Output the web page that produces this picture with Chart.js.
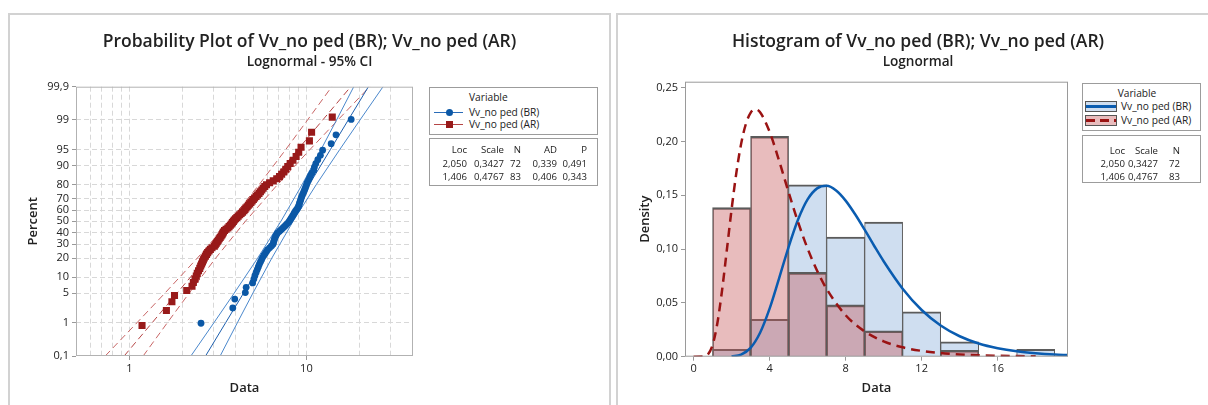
<!DOCTYPE html>
<html>
<head>
<meta charset="utf-8">
<script src="https://cdn.jsdelivr.net/npm/chart.js@4"></script>
<style>
  body { margin: 0; width: 1208px; height: 405px; overflow: hidden; background: #fff; position: relative;
         font-family: "Open Sans", sans-serif; color: #222; }
  .panel { position: absolute; border: 2px solid #d2d2d2; border-bottom: none; box-sizing: border-box; }
  .title { position: absolute; text-align: center; font-size: 17.5px; font-weight: 600; line-height: 22px; white-space: nowrap; }
  .sub { position: absolute; text-align: center; font-size: 13.6px; font-weight: 600; line-height: 18px; white-space: nowrap; }
  .box { position: absolute; border: 1px solid #9c9c9c; box-sizing: border-box; background: #fff; }
  .txt { position: absolute; font-size: 10.2px; line-height: 12px; white-space: nowrap; }
  .txt.stat { font-size: 9.6px; }
  .sym { position: absolute; }
  canvas { position: absolute; top: 0; }
</style>
</head>
<body>
<div class="panel" style="left:8px;top:13px;width:603px;height:400px"></div>
<div class="panel" style="left:616px;top:13px;width:610px;height:400px"></div>

<canvas id="pp" width="612" height="405" style="left:0"></canvas>
<canvas id="hist" width="596" height="405" style="left:612px"></canvas>

<div class="title" style="left:8px;width:603px;top:29px">Probability Plot of Vv_no ped (BR); Vv_no ped (AR)</div>
<div class="sub" style="left:8px;width:603px;top:52px">Lognormal - 95% CI</div>
<div class="title" style="left:616px;width:604px;top:29px">Histogram of Vv_no ped (BR); Vv_no ped (AR)</div>
<div class="sub" style="left:616px;width:604px;top:52px">Lognormal</div>

<!-- legend boxes -->
<div class="box" style="left:429px;top:87px;width:169px;height:48px"></div>
<div class="box" style="left:429px;top:138px;width:169px;height:48px"></div>
<div class="box" style="left:1082px;top:83px;width:119px;height:48px"></div>
<div class="box" style="left:1082px;top:135px;width:119px;height:48px"></div>

<!-- legend symbols, probability plot -->
<div class="sym" style="left:434px;top:111.5px;width:29px;height:1px;background:#2a6cb8"></div>
<div class="sym" style="left:445.5px;top:108.5px;width:7px;height:7px;border-radius:50%;background:#0b58a6"></div>
<div class="sym" style="left:434px;top:123.5px;width:29px;height:1px;background:#b54545"></div>
<div class="sym" style="left:445.5px;top:120.5px;width:7px;height:7px;background:#981a1a"></div>

<!-- legend symbols, histogram -->
<div class="sym" style="left:1085px;top:100.5px;width:32px;height:11px;background:#cfdef0;border:1px solid #555;box-sizing:border-box"></div>
<div class="sym" style="left:1086px;top:105px;width:30px;height:2.5px;background:#0a5cb0"></div>
<div class="sym" style="left:1085px;top:114.5px;width:32px;height:11px;background:#e8bcbd;border:1px solid #555;box-sizing:border-box"></div>
<div class="sym" style="left:1086px;top:119px;width:30px;height:2.5px;background:repeating-linear-gradient(90deg,#9a1313 0 9px,transparent 9px 14px)"></div>

<script>
/* Probability plot + histogram, two lognormal fits */

const brValues = [2.54, 3.84, 3.94, 4.52, 4.57, 4.97, 5.05, 5.12, 5.2, 5.28, 5.35, 5.42, 5.5, 5.58, 5.65,
  5.75, 5.85, 5.95, 6.05, 6.2, 6.35, 6.48, 6.52, 6.56, 6.6, 6.65, 6.72, 6.8, 6.88, 7.05, 7.2, 7.35, 7.5,
  7.65, 7.8, 7.95, 8.05, 8.15, 8.25, 8.35, 8.45, 8.55, 8.65, 8.78, 8.9, 9.02, 9.08, 9.14, 9.2, 9.27, 9.33,
  9.4, 9.5, 9.6, 9.7, 9.8, 9.9, 10.0, 10.1, 10.25, 10.4, 10.55, 10.75, 11.0, 11.1, 11.3, 11.6, 12.0, 12.35,
  13.8, 14.7, 17.9];
const arValues = [1.18, 1.62, 1.74, 1.8, 2.11, 2.26, 2.3, 2.35, 2.39, 2.42, 2.46, 2.5, 2.53, 2.56, 2.59,
  2.62, 2.65, 2.69, 2.73, 2.77, 2.82, 2.87, 2.93, 3.02, 3.06, 3.1, 3.14, 3.18, 3.22, 3.26, 3.3, 3.34, 3.37,
  3.4, 3.45, 3.52, 3.6, 3.66, 3.72, 3.77, 3.82, 3.87, 3.92, 3.98, 4.05, 4.12, 4.2, 4.28, 4.36, 4.44, 4.5,
  4.56, 4.63, 4.7, 4.78, 4.86, 4.94, 5.02, 5.1, 5.2, 5.3, 5.4, 5.5, 5.6, 5.7, 5.82, 5.95, 6.2, 6.5, 6.8,
  7.05, 7.25, 7.45, 7.65, 7.85, 8.1, 8.4, 8.75, 9.05, 9.33, 10.4, 10.7, 14.0];

// fitted line and 95% CI (x value at each percent level)
const fitPct = [0.1, 1, 5, 20, 50, 80, 95, 99, 99.9];
const brFit = [2.694, 3.500, 4.421, 5.822, 7.768, 10.365, 13.650, 17.240, 22.40];
const brLower = [2.227, 3.005, 3.915, 5.310, 7.177, 9.452, 12.089, 14.803, 18.520];
const brUpper = [3.258, 4.077, 4.991, 6.384, 8.409, 11.365, 15.412, 20.077, 27.093];
const arFit = [0.935, 1.346, 1.862, 2.731, 4.080, 6.094, 8.936, 12.367, 17.80];
const arLower = [0.731, 1.105, 1.591, 2.424, 3.682, 5.408, 7.636, 10.151, 13.911];
const arUpper = [1.197, 1.640, 2.180, 3.078, 4.521, 6.866, 10.458, 15.066, 22.774];

const pctTicks = [0.1, 1, 5, 10, 20, 30, 40, 50, 60, 70, 80, 90, 95, 99, 99.9];
const dataGrid = [0.5, 0.6, 0.7, 0.8, 0.9, 1, 2, 3, 4, 5, 6, 7, 8, 9, 10, 20, 30, 40];
const dataLabels = [1, 10];

// histogram
const binCenters = [2, 4, 6, 8, 10, 12, 14, 16, 18];
const brDensity = [0.0069, 0.0347, 0.1597, 0.1111, 0.125, 0.0417, 0.0139, 0, 0.0069];
const arDensity = [0.1386, 0.2048, 0.0783, 0.0482, 0.0241, 0, 0.006, 0, 0];
const brCurveX = [2, 2.5, 3, 3.5, 4, 4.5, 5, 5.5, 6, 6.5, 7, 7.5, 8, 8.5, 9, 9.5, 10, 11, 12, 13, 14, 15, 16, 17, 18, 19, 19.7];
const brCurveY = [0.0002, 0.002, 0.0082, 0.0222, 0.0446, 0.0728, 0.1019, 0.1274, 0.1461, 0.1564, 0.1588, 0.1544, 0.1450,
  0.1323, 0.1180, 0.1031, 0.0887, 0.0632, 0.0434, 0.0290, 0.0190, 0.0123, 0.0079, 0.0050, 0.0032, 0.0020, 0.0015];
const arCurveX = [0, 0.5, 0.75, 1, 1.25, 1.5, 1.75, 2, 2.25, 2.5, 2.75, 3, 3.25, 3.5, 4, 4.5, 5, 5.5, 6, 6.5, 7, 8, 9, 10,
  11, 12, 13, 14, 15, 16, 17, 18];
const arCurveY = [0, 0.0001, 0.0020, 0.0108, 0.0308, 0.0617, 0.0989, 0.1368, 0.1706, 0.1975, 0.2161, 0.2266, 0.2298,
  0.2271, 0.2090, 0.1821, 0.1528, 0.1250, 0.1005, 0.0799, 0.0630, 0.0386, 0.0235, 0.0143, 0.0087, 0.0054, 0.0034,
  0.0021, 0.0013, 0.0009, 0.0006, 0.0004];
const densTicks = [0, 0.05, 0.10, 0.15, 0.20, 0.25];
const histXTicks = [0, 4, 8, 12, 16];

// legend / stats text
const seriesNames = ["Vv_no ped (BR)", "Vv_no ped (AR)"];
const ppStatHead = ["Loc", "Scale", "N", "AD", "P"];
const ppStatRows = [["2,050", "0,3427", "72", "0,339", "0,491"], ["1,406", "0,4767", "83", "0,406", "0,343"]];
const histStatHead = ["Loc", "Scale", "N"];
const histStatRows = [["2,050", "0,3427", "72"], ["1,406", "0,4767", "83"]];

const BLUE = "#0b58a6";
const RED = "#981a1a";

Chart.defaults.font.family = '"Open Sans", sans-serif';
Chart.defaults.color = "#222";

/* ── helpers ── */
function probit(p) {
  const a = [-39.69683028665376, 220.9460984245205, -275.9285104469687, 138.357751867269, -30.66479806614716, 2.506628277459239];
  const b = [-54.47609879822406, 161.5858368580409, -155.6989798598866, 66.80131188771972, -13.28068155288572];
  const c = [-0.007784894002430293, -0.3223964580411365, -2.400758277161838, -2.549732539343734, 4.374664141464968, 2.938163982698783];
  const d = [0.007784695709041462, 0.3224671290700398, 2.445134137142996, 3.754408661907416];
  const tail = (q) => (((((c[0] * q + c[1]) * q + c[2]) * q + c[3]) * q + c[4]) * q + c[5]) /
    ((((d[0] * q + d[1]) * q + d[2]) * q + d[3]) * q + 1);
  if (p < 0.02425) return tail(Math.sqrt(-2 * Math.log(p)));
  if (p > 1 - 0.02425) return -tail(Math.sqrt(-2 * Math.log(1 - p)));
  const q = p - 0.5, r = q * q;
  return (((((a[0] * r + a[1]) * r + a[2]) * r + a[3]) * r + a[4]) * r + a[5]) * q /
    (((((b[0] * r + b[1]) * r + b[2]) * r + b[3]) * r + b[4]) * r + 1);
}
const comma = (v, d) => (d == null ? String(v) : v.toFixed(d)).replace(".", ",");

// median-rank plotting positions
const ppPoints = (vals) => vals.map((v, i) => ({ x: v, y: probit((i + 0.7) / (vals.length + 0.4)) }));
const ppLine = (xs) => xs.map((v, i) => ({ x: v, y: probit(fitPct[i] / 100) }));

const framePlugin = {
  id: "frame",
  afterDatasetsDraw(chart, args, opts) {
    const { ctx, chartArea: a } = chart;
    ctx.save();
    ctx.strokeStyle = opts.color;
    ctx.lineWidth = 1;
    ctx.strokeRect(a.left + 0.5, a.top + 0.5, a.right - a.left - 1, a.bottom - a.top - 1);
    ctx.restore();
  },
};

function text(str, x, y, anchor, cls) {
  const el = document.createElement("div");
  el.className = "txt" + (cls ? " " + cls : "");
  el.textContent = str;
  el.style.left = x + "px";
  el.style.top = y + "px";
  const tx = anchor === "right" ? "-100%" : anchor === "center" ? "-50%" : "0";
  el.style.transform = `translate(${tx},-50%)`;
  document.body.appendChild(el);
}

/* ── probability plot ── */
const lineDs = (xs, color, dash, order) => ({
  data: ppLine(xs), showLine: true, pointRadius: 0, borderColor: color, borderWidth: 1,
  borderDash: dash, order, fill: false,
});

new Chart(document.getElementById("pp"), {
  type: "scatter",
  data: {
    datasets: [
      { data: ppPoints(brValues), pointStyle: "circle", pointRadius: 3.4, backgroundColor: BLUE, borderWidth: 0, order: 1 },
      { data: ppPoints(arValues), pointStyle: "rect", pointRadius: 5, backgroundColor: RED, borderWidth: 0, order: 0 },
      lineDs(brFit, "#1d5fae", [], 2),
      lineDs(brLower, "#4b88cc", [], 3),
      lineDs(brUpper, "#4b88cc", [], 3),
      lineDs(arFit, "#b54545", [7, 4], 4),
      lineDs(arLower, "#c86565", [7, 4], 5),
      lineDs(arUpper, "#c86565", [7, 4], 5),
    ],
  },
  options: {
    responsive: false,
    animation: false,
    events: [],
    layout: { padding: { left: 0, right: 199, top: 86.7, bottom: 0 } },
    plugins: { legend: { display: false }, tooltip: { enabled: false }, frame: { color: "#b2b2b2" } },
    scales: {
      x: {
        type: "logarithmic",
        min: 0.5,
        max: 40,
        afterBuildTicks: (s) => { s.ticks = dataGrid.map((v) => ({ value: v })); },
        afterFit: (s) => { s.height = 49; },
        ticks: {
          autoSkip: false, maxRotation: 0, padding: 2, font: { size: 11 },
          callback: (v) => (dataLabels.includes(v) ? String(v) : ""),
        },
        grid: {
          color: (c) => (c.tick && (c.tick.value === 0.5 || c.tick.value === 40) ? "transparent" : "#d8d8d8"),
          tickColor: (c) => (c.tick && dataLabels.includes(c.tick.value) ? "#999" : "transparent"),
          tickLength: 4,
        },
        border: { display: false, dash: [5, 3] },
        title: { display: true, text: "Data", font: { size: 13, weight: "600" }, padding: { top: 0, bottom: 9 } },
      },
      y: {
        type: "linear",
        min: probit(0.001),
        max: probit(0.999),
        afterBuildTicks: (s) => { s.ticks = pctTicks.map((p) => ({ value: probit(p / 100) })); },
        afterFit: (s) => { s.width = 76; },
        ticks: {
          autoSkip: false, padding: 3, font: { size: 11 },
          callback: (v, i) => comma(pctTicks[i]),
        },
        grid: {
          color: (c) => (c.index === 0 || c.index === pctTicks.length - 1 ? "transparent" : "#d8d8d8"),
          tickColor: "#999",
          tickLength: 4,
        },
        border: { display: false, dash: [5, 3] },
        title: { display: true, text: "Percent", font: { size: 13, weight: "600" }, padding: { top: 25, bottom: 0 } },
      },
    },
  },
  plugins: [framePlugin],
});

/* ── histogram ── */
const barDs = (dens, bg, order) => ({
  data: binCenters.map((x, i) => ({ x, y: dens[i] })),
  backgroundColor: bg,
  borderColor: "#5b5b5b",
  borderWidth: { top: 2, left: 1, right: 1, bottom: 0 },
  grouped: false,
  barPercentage: 1,
  categoryPercentage: 1,
  order,
});

new Chart(document.getElementById("hist"), {
  type: "bar",
  data: {
    datasets: [
      barDs(brDensity, "#cfdef0", 4),
      barDs(arDensity, "rgba(198,88,90,0.4)", 3),
      {
        type: "line", data: brCurveX.map((x, i) => ({ x, y: brCurveY[i] })), borderColor: "#0a5cb0",
        borderWidth: 2.5, pointRadius: 0, cubicInterpolationMode: "monotone", order: 2,
      },
      {
        type: "line", data: arCurveX.map((x, i) => ({ x, y: arCurveY[i] })), borderColor: "#9a1313",
        borderWidth: 2.5, borderDash: [9, 6], pointRadius: 0, cubicInterpolationMode: "monotone", order: 1,
      },
    ],
  },
  options: {
    responsive: false,
    animation: false,
    events: [],
    layout: { padding: { left: 0, right: 140, top: 81.7, bottom: 0 } },
    plugins: { legend: { display: false }, tooltip: { enabled: false }, frame: { color: "#9a9a9a" } },
    scales: {
      x: {
        type: "linear",
        min: -0.45,
        max: 19.7,
        offset: false,
        afterBuildTicks: (s) => { s.ticks = histXTicks.map((v) => ({ value: v })); },
        afterFit: (s) => { s.height = 48.3; },
        ticks: { autoSkip: false, maxRotation: 0, padding: 2, font: { size: 11 } },
        grid: { drawOnChartArea: false, offset: false, tickColor: "#999", tickLength: 4 },
        border: { display: false },
        title: { display: true, text: "Data", font: { size: 13, weight: "600" }, padding: { top: 0, bottom: 9 } },
      },
      y: {
        type: "linear",
        min: 0,
        max: 0.2555,
        afterBuildTicks: (s) => { s.ticks = densTicks.map((v) => ({ value: v })); },
        afterFit: (s) => { s.width = 73; },
        ticks: { autoSkip: false, padding: 3, font: { size: 11 }, callback: (v) => comma(v, 2) },
        grid: { drawOnChartArea: false, tickColor: "#999", tickLength: 4 },
        border: { display: false },
        title: { display: true, text: "Density", font: { size: 13, weight: "600" }, padding: { top: 25, bottom: 0 } },
      },
    },
  },
  plugins: [framePlugin],
});

/* ── legends and stats tables ── */
text("Variable", 469, 97);
text(seriesNames[0], 469, 111.5);
text(seriesNames[1], 469, 124);
const ppCols = [467, 504, 521, 557, 587];
ppStatHead.forEach((h, i) => text(h, ppCols[i], 150, "right", "stat"));
ppStatRows.forEach((row, r) => row.forEach((v, i) => text(v, ppCols[i], 163.5 + r * 13, "right", "stat")));

text("Variable", 1137, 93, "center");
text(seriesNames[0], 1121, 106);
text(seriesNames[1], 1121, 120);
const hCols = [1125, 1158, 1180];
histStatHead.forEach((h, i) => text(h, hCols[i], 151, "right", "stat"));
histStatRows.forEach((row, r) => row.forEach((v, i) => text(v, hCols[i], 164 + r * 12.5, "right", "stat")));
</script>
</body>
</html>
